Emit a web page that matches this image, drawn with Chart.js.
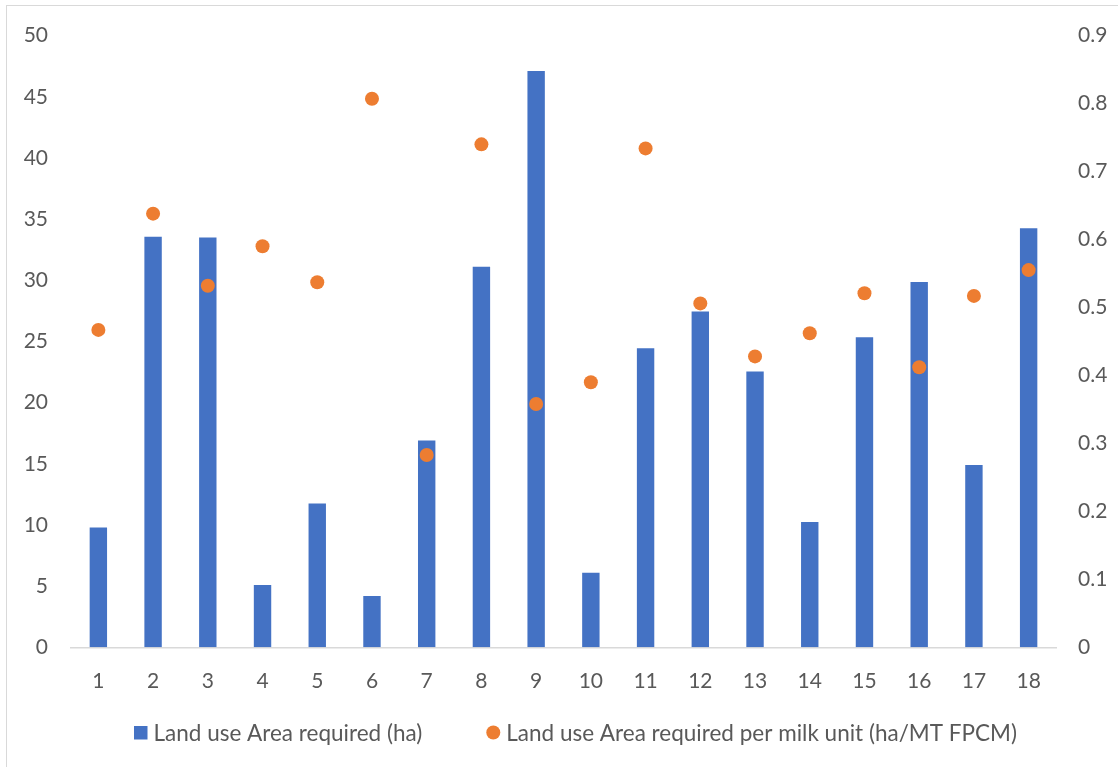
<!DOCTYPE html>
<html>
<head>
<meta charset="utf-8">
<script src="https://cdn.jsdelivr.net/npm/chart.js@4/dist/chart.umd.min.js"></script>
<style>
  html, body { margin: 0; padding: 0; background: #ffffff; overflow: hidden; }
  #frame { position: absolute; left: 6px; top: 5px; width: 1300px; height: 900px; border: 1px solid #d9d9d9; box-sizing: border-box; }
  #wrap { position: absolute; left: 0; top: 0; width: 1118px; height: 767px; }
</style>
</head>
<body>
<div id="frame"></div>
<div id="wrap"><canvas id="c" width="1118" height="767"></canvas></div>
<script>
const categories = ['1','2','3','4','5','6','7','8','9','10','11','12','13','14','15','16','17','18'];
const areaRequired = [9.8, 33.55, 33.5, 5.1, 11.75, 4.2, 16.9, 31.1, 47.1, 6.1, 24.45, 27.45, 22.55, 10.25, 25.35, 29.85, 14.9, 34.25];
const areaPerMilk = [0.467, 0.638, 0.532, 0.590, 0.537, 0.807, 0.283, 0.740, 0.358, 0.390, 0.734, 0.506, 0.428, 0.462, 0.521, 0.412, 0.517, 0.555];
const leftTickLabels = ['0','5','10','15','20','25','30','35','40','45','50'];
const rightTickLabels = ['0','0.1','0.2','0.3','0.4','0.5','0.6','0.7','0.8','0.9'];
const seriesNames = ['Land use Area required (ha)', 'Land use Area required per milk unit (ha/MT FPCM)'];

const FONT = 'Lato, "Noto Sans", sans-serif';
const TICK_SIZE = 21;
const LEGEND_SIZE = 22.5;
const TXT = '#595959';
const BLUE = '#4472C4';
const ORANGE = '#ED7D31';

const legendPlugin = {
  id: 'customLegend',
  afterDraw(chart) {
    const ctx = chart.ctx;
    const bar = chart.data.datasets[0];
    const pts = chart.data.datasets[1];
    ctx.save();
    ctx.font = LEGEND_SIZE + 'px ' + FONT;
    ctx.textBaseline = 'middle';
    ctx.textAlign = 'left';
    const y = 732.5;
    let x = 134;
    ctx.fillStyle = bar.backgroundColor;
    ctx.fillRect(x, y - 6.5, 13.5, 13.5);
    x += 19.5;
    ctx.fillStyle = TXT;
    ctx.fillText(bar.label, x, y + 1);
    x += ctx.measureText(bar.label).width + 64;
    ctx.fillStyle = pts.pointBackgroundColor;
    ctx.beginPath();
    ctx.arc(x + 7, y, 7, 0, Math.PI * 2);
    ctx.fill();
    x += 20;
    ctx.fillStyle = TXT;
    ctx.fillText(pts.label, x, y + 1);
    ctx.restore();
  }
};

new Chart(document.getElementById('c'), {
  type: 'bar',
  data: {
    labels: categories,
    datasets: [
      {
        type: 'bar',
        label: seriesNames[0],
        data: areaRequired,
        yAxisID: 'y',
        backgroundColor: BLUE,
        borderWidth: 0,
        barPercentage: 0.318,
        categoryPercentage: 1.0,
        order: 1
      },
      {
        type: 'line',
        label: seriesNames[1],
        data: areaPerMilk,
        yAxisID: 'y1',
        showLine: false,
        pointRadius: 7,
        pointHoverRadius: 7,
        pointBackgroundColor: ORANGE,
        pointBorderColor: ORANGE,
        pointBorderWidth: 0,
        backgroundColor: ORANGE,
        borderColor: ORANGE,
        order: 0
      }
    ]
  },
  options: {
    responsive: false,
    animation: false,
    devicePixelRatio: 1,
    layout: { padding: { top: 35, left: 0, right: 0, bottom: 0 } },
    plugins: {
      legend: { display: false },
      tooltip: { enabled: false }
    },
    scales: {
      x: {
        type: 'category',
        grid: { display: false, drawTicks: false },
        border: { display: true, color: '#d9d9d9', width: 1.5 },
        ticks: { color: TXT, font: { family: FONT, size: TICK_SIZE }, padding: 21, maxRotation: 0, autoSkip: false },
        afterFit(scale) { scale.height = 767 - 647.3; }
      },
      y: {
        position: 'left',
        min: 0, max: 50,
        grid: { display: false, drawTicks: false },
        border: { display: false },
        ticks: { stepSize: 5, color: TXT, font: { family: FONT, size: TICK_SIZE }, padding: 23,
          callback: (v, i) => leftTickLabels[i] },
        afterFit(scale) { scale.width = 71; }
      },
      y1: {
        position: 'right',
        min: 0, max: 0.9,
        grid: { display: false, drawTicks: false },
        border: { display: false },
        ticks: { stepSize: 0.1, color: TXT, font: { family: FONT, size: TICK_SIZE }, padding: 22,
          callback: (v, i) => rightTickLabels[i] },
        afterFit(scale) { scale.width = 1118 - 1056; }
      }
    }
  },
  plugins: [legendPlugin]
});
</script>
</body>
</html>
